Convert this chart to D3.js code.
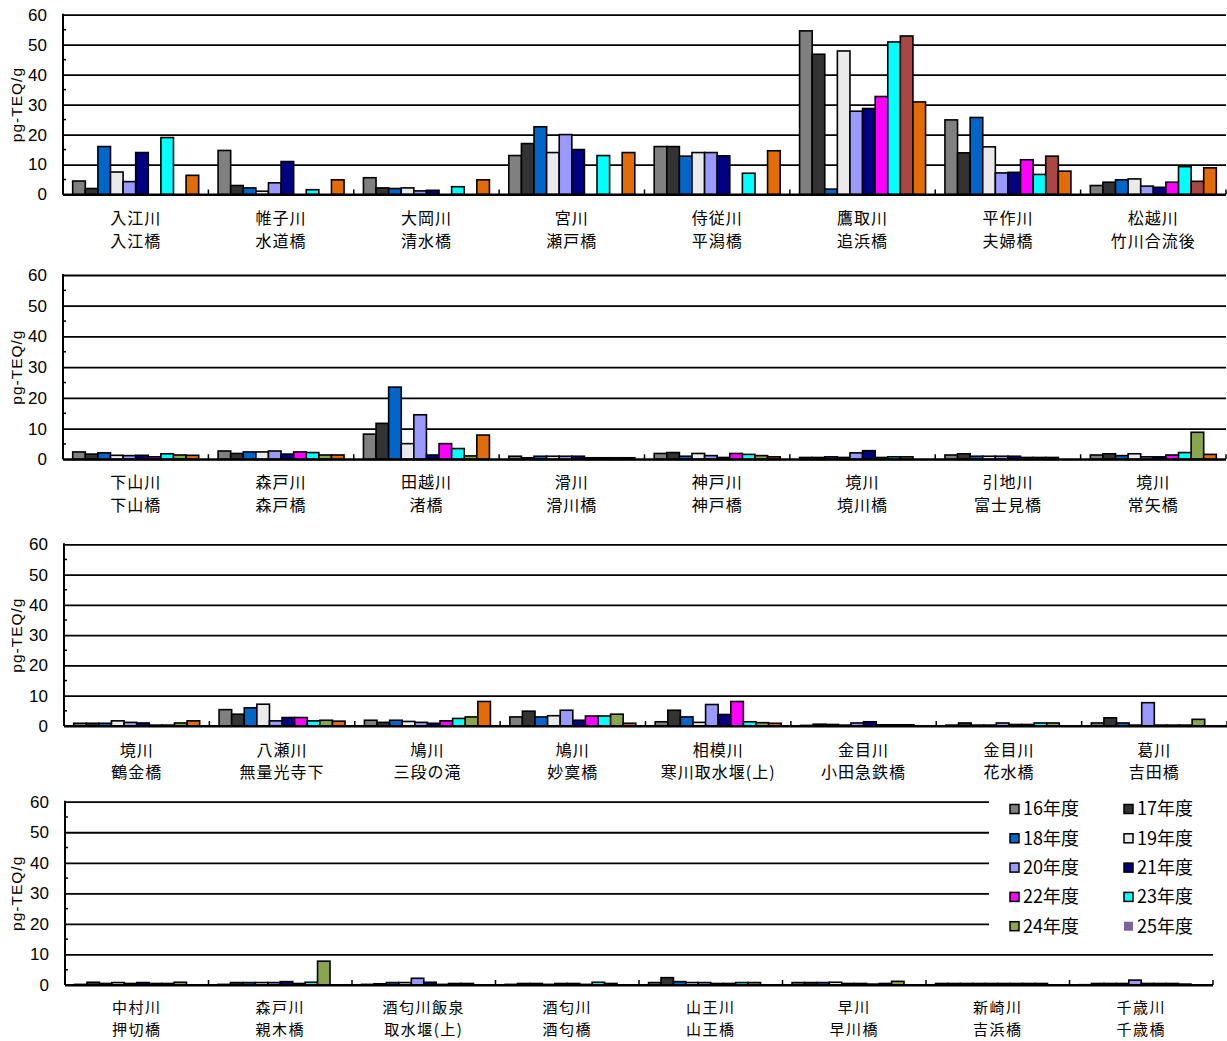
<!DOCTYPE html>
<html>
  <head>
    <meta charset="utf-8">
    <title>底質のダイオキシン類濃度</title>
    <script src="https://d3js.org/d3.v7.min.js"></script>
    <style>
      body { margin: 0; background: #fff; }
      svg { display: block; }
      .num { font-family: "Liberation Sans", Arial, sans-serif; font-size: 17px; }
      .jp { font-family: "Noto Sans CJK JP", sans-serif; font-size: 16px; letter-spacing: 1px; }
      .jp.small { font-size: 15px; letter-spacing: 1.5px; }
      .ytitle { font-family: "Liberation Sans", Arial, sans-serif; font-size: 15.5px; letter-spacing: 1px; }
      .legend { font-family: "Noto Sans CJK JP", sans-serif; font-size: 18px; }
    </style>
  </head>
  <body>
    <svg id="chart" width="1227" height="1041"></svg>
    <script>
      // years (series)
      var years = ["16年度", "17年度", "18年度", "19年度", "20年度", "21年度", "22年度", "23年度", "24年度", "25年度"];
      var yTicks = [0, 10, 20, 30, 40, 50, 60];

      // sites: [river, point]
      var sites1 = [["入江川", "入江橋"], ["帷子川", "水道橋"], ["大岡川", "清水橋"], ["宮川", "瀬戸橋"],
                    ["侍従川", "平潟橋"], ["鷹取川", "追浜橋"], ["平作川", "夫婦橋"], ["松越川", "竹川合流後"]];
      var sites2 = [["下山川", "下山橋"], ["森戸川", "森戸橋"], ["田越川", "渚橋"], ["滑川", "滑川橋"],
                    ["神戸川", "神戸橋"], ["境川", "境川橋"], ["引地川", "富士見橋"], ["境川", "常矢橋"]];
      var sites3 = [["境川", "鶴金橋"], ["八瀬川", "無量光寺下"], ["鳩川", "三段の滝"], ["鳩川", "妙寞橋"],
                    ["相模川", "寒川取水堰(上)"], ["金目川", "小田急鉄橋"], ["金目川", "花水橋"], ["葛川", "吉田橋"]];
      var sites4 = [["中村川", "押切橋"], ["森戸川", "親木橋"], ["酒匂川飯泉", "取水堰(上)"], ["酒匂川", "酒匂橋"],
                    ["山王川", "山王橋"], ["早川", "早川橋"], ["新崎川", "吉浜橋"], ["千歳川", "千歳橋"]];

      // pg-TEQ/g, one row per site, one value per year (null = no bar)
      var values1 = [
        [4.5, 2, 16, 7.5, 4.3, 14, null, 19, null, 6.4],
        [14.7, 3, 2.2, 1.1, 3.9, 11, null, 1.6, null, 4.9],
        [5.6, 2.2, 2, 2.2, 1.2, 1.4, null, 2.6, null, 4.9],
        [13, 17, 22.6, 14, 20, 15, null, 13, null, 14],
        [16, 16, 12.8, 14, 14, 12.9, null, 7.1, null, 14.6],
        [54.6, 46.8, 1.8, 47.9, 27.8, 28.7, 32.7, 50.9, 52.9, 30.9],
        [24.9, 13.9, 25.7, 15.9, 7.2, 7.4, 11.6, 6.7, 12.8, 7.8],
        [3, 4.1, 4.9, 5.2, 2.8, 2.4, 4.1, 9.3, 4.4, 8.9]
      ];
      var values2 = [
        [2.4, 1.7, 2.1, 1.3, 1.2, 1.3, 0.8, 1.8, 1.4, 1.3],
        [2.7, 1.9, 2.4, 2.4, 2.7, 1.7, 2.4, 2.2, 1.4, 1.4],
        [8.2, 11.7, 23.5, 5.1, 14.5, 1.4, 5.1, 3.5, 1.1, 7.9],
        [1.0, 0.5, 1.0, 1.0, 1.0, 1.0, 0.5, 0.5, 0.5, 0.5],
        [1.9, 2.2, 1.0, 1.9, 1.2, 0.6, 1.9, 1.6, 1.2, 0.8],
        [0.6, 0.6, 0.8, 0.6, 2.1, 2.8, 0.6, 0.8, 0.8, null],
        [1.4, 1.8, 1.0, 1.0, 1.0, 1.0, 0.6, 0.6, 0.6, null],
        [1.4, 1.8, 1.2, 1.8, 0.8, 0.8, 1.4, 2.2, 8.8, 1.6]
      ];
      var values3 = [
        [0.9, 0.9, 0.9, 1.7, 1.2, 1.0, 0.3, 0.3, 1.0, 1.7],
        [5.4, 3.9, 6.0, 7.2, 1.7, 2.8, 2.8, 1.7, 1.9, 1.6],
        [1.9, 1.2, 1.9, 1.5, 1.2, 0.9, 1.7, 2.5, 3.0, 8.1],
        [3.0, 4.9, 3.0, 3.4, 5.2, 1.9, 3.3, 3.3, 3.9, 0.9],
        [1.4, 5.2, 3.0, 1.2, 7.1, 3.8, 8.1, 1.4, 1.1, 0.9],
        [0.2, 0.6, 0.5, 0.3, 1.0, 1.4, 0.4, 0.4, 0.4, null],
        [0.3, 1.0, 0.3, 0.3, 1.0, 0.5, 0.5, 1.0, 1.0, null],
        [1.0, 2.7, 1.0, 0.3, 7.7, 0.3, 0.3, 0.3, 2.2, null]
      ];
      var values4 = [
        [0.2, 0.9, 0.5, 0.8, 0.5, 0.8, 0.5, 0.5, 0.9, null],
        [0.2, 0.8, 0.8, 0.8, 0.8, 1.1, 0.5, 0.9, 7.8, null],
        [0.2, 0.4, 0.8, 0.8, 2.2, 0.9, 0.2, 0.5, 0.5, null],
        [0.2, 0.5, 0.5, 0.2, 0.5, 0.5, 0.2, 0.9, 0.5, null],
        [0.8, 2.4, 1.1, 0.8, 0.8, 0.5, 0.5, 0.8, 0.8, null],
        [0.8, 0.8, 0.8, 0.9, 0.5, 0.5, 0.3, 0.5, 1.2, null],
        [0.5, 0.5, 0.5, 0.5, 0.5, 0.5, 0.5, 0.5, 0.5, null],
        [0.1, 0.5, 0.5, 0.5, 1.6, 0.5, 0.5, 0.5, 0.3, null]
      ];

      // colours (each panel is its own excel chart, so 24/25 differ)
      var baseColors = ["#808080", "#333333", "#0066CC", "#EAEAEA", "#9999FF", "#000080", "#FF00FF", "#00FFFF"];
      var colors1 = baseColors.concat(["#AA4643", "#E36C09"]);
      var colors23 = baseColors.concat(["#89A54E", "#E36C09"]);
      var colors4 = baseColors.concat(["#89A54E", "#7B6498"]);

      // panel frames
      var frames = [
        { sites: sites1, values: values1, colors: colors1, x0: 63, x1: 1226, top: 14.7, base: 194.5, l1: 24, l2: 47 },
        { sites: sites2, values: values2, colors: colors23, x0: 63, x1: 1226, top: 275, base: 459.3, l1: 23.5, l2: 46.5 },
        { sites: sites3, values: values3, colors: colors23, x0: 64, x1: 1227, top: 544.3, base: 726, l1: 24, l2: 46 },
        { sites: sites4, values: values4, colors: colors4, x0: 65, x1: 1213, top: 801.7, base: 985, l1: 22.5, l2: 44.5,
          small: true, legend: true }
      ];

      var svg = d3.select("#chart");

      frames.forEach(function(f) {
        var g = svg.append("g");
        var keys = f.sites.map(function(d, i) { return i; });
        var x = d3.scaleBand().domain(keys).range([f.x0, f.x1]).padding(0);
        var xi = d3.scaleBand().domain(d3.range(years.length)).range([0, x.bandwidth()])
          .paddingInner(0).paddingOuter(0.77);
        var y = d3.scaleLinear().domain([0, 60]).range([f.base, f.top]);

        // gridlines + tick labels
        var axis = d3.axisLeft(y).tickValues(yTicks).tickSize(-(f.x1 - f.x0)).tickPadding(16);
        var ax = g.append("g").attr("transform", "translate(" + f.x0 + ",0)").call(axis);
        ax.select(".domain").remove();
        ax.attr("font-size", null).attr("font-family", null);
        ax.selectAll(".tick line").attr("stroke", "#000").attr("stroke-width", 1.8);
        ax.selectAll(".tick text").attr("class", "num").attr("fill", "#000");

        // minor ticks at 5s
        g.selectAll(".minor").data(d3.range(5, 60, 10)).enter().append("line")
          .attr("x1", f.x0).attr("x2", f.x0 + 3)
          .attr("y1", function(d) { return y(d); }).attr("y2", function(d) { return y(d); })
          .attr("stroke", "#000").attr("stroke-width", 1.5);

        // bars
        f.values.forEach(function(row, si) {
          g.append("g").selectAll("rect")
            .data(row.map(function(v, yi) { return { v: v, yi: yi }; }).filter(function(d) { return d.v !== null; }))
            .enter().append("rect")
              .attr("x", function(d) { return x(si) + xi(d.yi); })
              .attr("width", xi.bandwidth())
              .attr("y", function(d) { return y(d.v); })
              .attr("height", function(d) { return f.base - y(d.v); })
              .attr("fill", function(d) { return f.colors[d.yi]; })
              .attr("stroke", "#000")
              .attr("stroke-width", 1.6);
        });

        // axes
        g.append("line").attr("x1", f.x0).attr("x2", f.x0).attr("y1", f.top - 1).attr("y2", f.base)
          .attr("stroke", "#000").attr("stroke-width", 2);
        g.append("line").attr("x1", f.x0).attr("x2", f.x1).attr("y1", f.base).attr("y2", f.base)
          .attr("stroke", "#000").attr("stroke-width", 2);
        g.selectAll(".xtick").data(d3.range(f.sites.length + 1)).enter().append("line")
          .attr("x1", function(d) { return f.x0 + d * x.step(); })
          .attr("x2", function(d) { return f.x0 + d * x.step(); })
          .attr("y1", f.base).attr("y2", f.base - 5)
          .attr("stroke", "#000").attr("stroke-width", 1.5);

        // site labels
        var cls = f.small ? "jp small" : "jp";
        var lab = g.selectAll(".site").data(f.sites).enter().append("g")
          .attr("transform", function(d, i) { return "translate(" + (x(i) + x.bandwidth() / 2) + "," + f.base + ")"; });
        lab.append("text").attr("class", cls).attr("text-anchor", "middle").attr("dy", "0.35em")
          .attr("y", f.l1).text(function(d) { return d[0]; });
        lab.append("text").attr("class", cls).attr("text-anchor", "middle").attr("dy", "0.35em")
          .attr("y", f.l2).text(function(d) { return d[1]; });

        // y title
        g.append("text").attr("class", "ytitle").attr("text-anchor", "middle")
          .attr("transform", "translate(17," + ((f.top + f.base) / 2) + ") rotate(-90)")
          .attr("dy", "0.35em").text("pg-TEQ/g");

        // legend
        if (f.legend) {
          var lg = g.append("g");
          lg.append("rect").attr("x", 989).attr("y", 795).attr("width", 238).attr("height", 144).attr("fill", "#fff");
          var item = lg.selectAll(".item").data(years).enter().append("g")
            .attr("transform", function(d, i) {
              return "translate(" + (i % 2 === 0 ? 1010 : 1124) + "," + (809 + Math.floor(i / 2) * 29.3) + ")";
            });
          item.append("rect").attr("x", 0).attr("y", -4.5).attr("width", 9).attr("height", 9)
            .attr("fill", function(d, i) { return f.colors[i]; })
            .attr("stroke", function(d, i) { return i === 9 ? "none" : "#000"; })
            .attr("stroke-width", 1.5);
          item.append("text").attr("class", "legend").attr("x", 13).attr("dy", "0.36em")
            .text(function(d) { return d; });
        }
      });
    </script>
  </body>
</html>
